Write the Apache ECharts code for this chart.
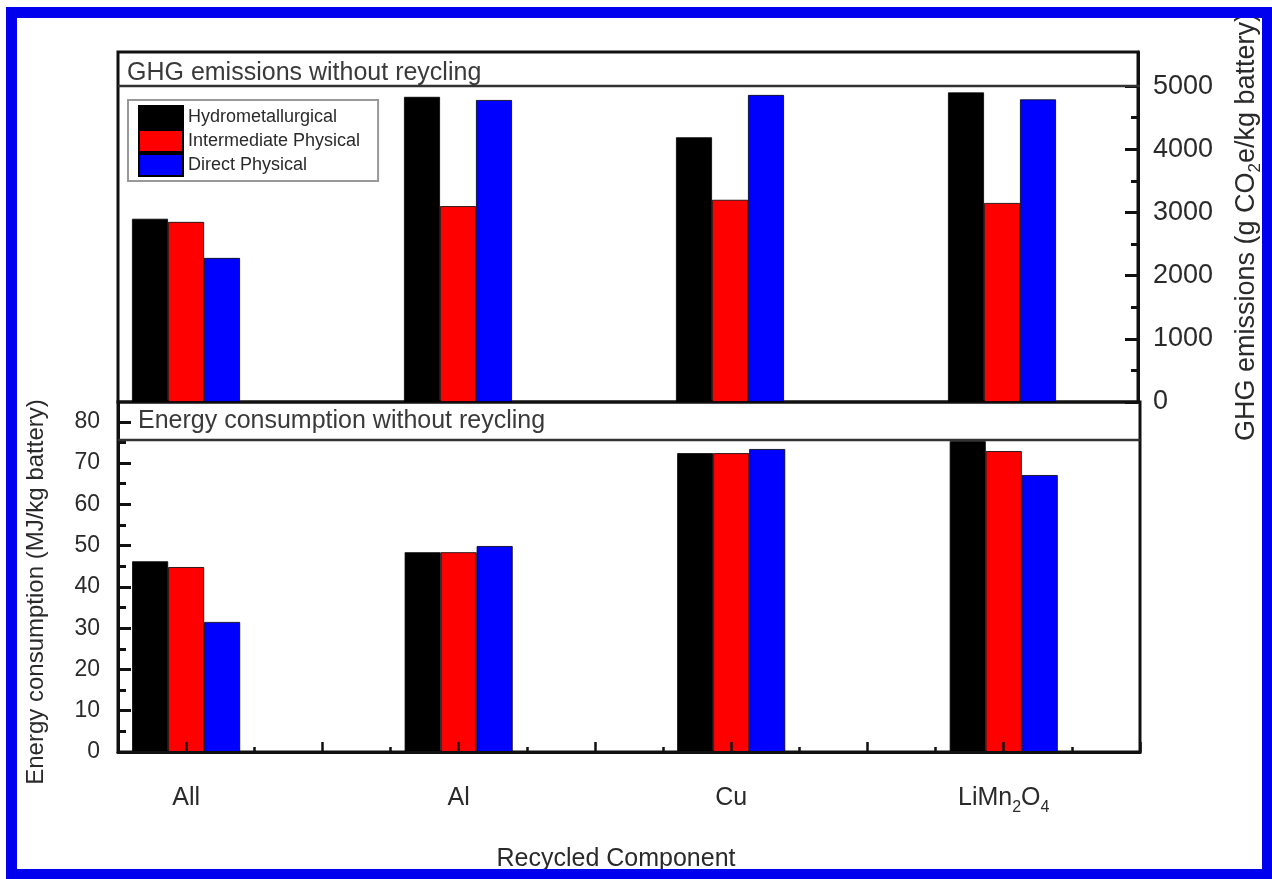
<!DOCTYPE html>
<html>
<head>
<meta charset="utf-8">
<title>GHG emissions and energy consumption without recycling</title>
<script src="https://cdn.jsdelivr.net/npm/echarts@6/dist/echarts.min.js"></script>
<style>
  html, body { margin: 0; padding: 0; background: #fff; }
  #chart { width: 1272px; height: 879px; }
</style>
</head>
<body>
<div id="chart"></div>
<script>
// Recycled components and their positions on the x axis
const categories = ['All', 'Al', 'Cu', 'LiMn2O4'];
const categoryPos = [1, 2, 3, 4];

// Series names
const seriesNames = ['Hydrometallurgical', 'Intermediate Physical', 'Direct Physical'];

// GHG emissions (g CO2e/kg battery)
const ghgHydro = [2900, 4830, 4190, 4900];
const ghgInter = [2850, 3100, 3200, 3150];
const ghgDirect = [2280, 4780, 4860, 4790];

// Energy consumption (MJ/kg battery)
const energyHydro = [46.2, 48.4, 72.4, 75.3];
const energyInter = [44.8, 48.4, 72.4, 72.9];
const energyDirect = [31.5, 49.9, 73.4, 67.1];

// Tick positions
const ghgTicks = [0, 1000, 2000, 3000, 4000, 5000];
const ghgMinorTicks = [500, 1500, 2500, 3500, 4500];
const energyTicks = [0, 10, 20, 30, 40, 50, 60, 70, 80];
const energyMinorTicks = [5, 15, 25, 35, 45, 55, 65, 75];
const xMajorTicks = [1, 1.5, 2, 2.5, 3, 3.5, 4, 4.5];
const xMinorTicks = [1.25, 1.75, 2.25, 2.75, 3.25, 3.75, 4.25];

const colors = ['#000000', '#ff0000', '#0000ff'];
const FONT = '"Liberation Sans", Arial, Helvetica, sans-serif';
const TEXT = '#2a2a2a';
const FRAME = '#111';

// turn digits into subscript rich-text tokens
function withSubscripts(name) {
  return '{n|' + name.replace(/(\d)/g, '}{s|$1}{n|') + '}';
}

function pairs(values) {
  return values.map((v, i) => [categoryPos[i], v]);
}

function barSeries(name, values, idx, gridIdx) {
  return {
    type: 'bar',
    name: name,
    xAxisIndex: gridIdx === 0 ? 0 : 1,
    yAxisIndex: gridIdx === 0 ? 0 : 2,
    data: pairs(values),
    barWidth: 36,
    barGap: '0%',
    itemStyle: { color: colors[idx], borderColor: '#000', borderWidth: 0.8 },
    emphasis: { disabled: true },
    z: 2
  };
}

const X_MIN = 0.75, X_MAX = 4.5;
const GHG_MAX = 5540;
const ENERGY_MAX = 84.8;

const chart = echarts.init(document.getElementById('chart'), null, { renderer: 'canvas' });

const option = {
  backgroundColor: '#ffffff',
  animation: false,
  textStyle: { fontFamily: FONT },
  grid: [
    { left: 118, right: 132, top: 52, height: 350, show: true, borderColor: FRAME, borderWidth: 3, backgroundColor: 'transparent' },
    { left: 118, right: 132, top: 402, height: 350, show: true, borderColor: FRAME, borderWidth: 3, backgroundColor: 'transparent' }
  ],
  title: [
    { text: 'GHG emissions without reycling', left: 122, top: 56, padding: 5,
      textStyle: { fontFamily: FONT, fontSize: 25, fontWeight: 'normal', color: '#3a3a3a' } },
    { text: 'Energy consumption without reycling', left: 133, top: 404, padding: 5,
      textStyle: { fontFamily: FONT, fontSize: 25, fontWeight: 'normal', color: '#3a3a3a' } }
  ],
  legend: {
    data: seriesNames,
    orient: 'vertical',
    left: 128,
    top: 100,
    padding: [5, 18, 4, 10],
    itemWidth: 44,
    itemHeight: 22,
    itemGap: 0,
    icon: 'rect',
    backgroundColor: '#fff',
    borderColor: '#999',
    borderWidth: 2,
    selectedMode: false,
    textStyle: { fontFamily: FONT, fontSize: 18, color: TEXT }
  },
  xAxis: [
    { type: 'value', gridIndex: 0, min: X_MIN, max: X_MAX, show: false, splitLine: { show: false } },
    {
      type: 'value', gridIndex: 1, min: X_MIN, max: X_MAX, position: 'bottom', z: 5,
      axisLine: { show: true, lineStyle: { color: FRAME, width: 3 } },
      axisTick: { show: true, inside: true, length: 10, customValues: xMajorTicks, lineStyle: { color: FRAME, width: 2.5 } },
      axisLabel: {
        show: true, customValues: categoryPos, margin: 34, color: TEXT,
        formatter: v => withSubscripts(categories[categoryPos.indexOf(v)] || ''),
        rich: {
          n: { fontFamily: FONT, fontSize: 25, lineHeight: 25, verticalAlign: 'top', color: TEXT },
          s: { fontFamily: FONT, fontSize: 16, lineHeight: 16, padding: [14, 0, 0, 0], verticalAlign: 'top', color: TEXT }
        }
      },
      splitLine: { show: false },
      name: 'Recycled Component',
      nameLocation: 'middle',
      nameGap: 95,
      nameTextStyle: { fontFamily: FONT, fontSize: 25, color: TEXT, padding: [0, 26, 0, 0] }
    },
    {
      type: 'value', gridIndex: 1, min: X_MIN, max: X_MAX, position: 'bottom', z: 5,
      axisLine: { show: false },
      axisTick: { show: true, inside: true, length: 5, customValues: xMinorTicks, lineStyle: { color: FRAME, width: 2.5 } },
      axisLabel: { show: false },
      splitLine: { show: false }
    }
  ],
  yAxis: [
    {
      type: 'value', gridIndex: 0, min: 0, max: GHG_MAX, position: 'right',
      axisLine: { show: true, lineStyle: { color: FRAME, width: 3 } },
      axisTick: { show: true, inside: true, length: 13, customValues: ghgTicks, lineStyle: { color: FRAME, width: 3 } },
      axisLabel: { show: true, customValues: ghgTicks, margin: 15, fontFamily: FONT, fontSize: 27, color: TEXT,
        formatter: v => String(v) },
      splitLine: { show: false },
      name: '{n|GHG emissions (g CO}{s|2}{n|e/kg battery)}',
      nameLocation: 'middle',
      nameRotate: 90,
      nameGap: 95,
      nameTextStyle: {
        fontFamily: FONT, fontSize: 27, color: TEXT,
        rich: {
          n: { fontFamily: FONT, fontSize: 27, lineHeight: 27, verticalAlign: 'top', color: TEXT },
          s: { fontFamily: FONT, fontSize: 17, lineHeight: 17, padding: [14, 0, 0, 0], verticalAlign: 'top', color: TEXT }
        }
      }
    },
    {
      type: 'value', gridIndex: 0, min: 0, max: GHG_MAX, position: 'right',
      axisLine: { show: false },
      axisTick: { show: true, inside: true, length: 7, customValues: ghgMinorTicks, lineStyle: { color: FRAME, width: 3 } },
      axisLabel: { show: false },
      splitLine: { show: false }
    },
    {
      type: 'value', gridIndex: 1, min: 0, max: ENERGY_MAX, position: 'left',
      axisLine: { show: true, lineStyle: { color: FRAME, width: 3 } },
      axisTick: { show: true, inside: true, length: 13, customValues: energyTicks, lineStyle: { color: FRAME, width: 3 } },
      axisLabel: { show: true, customValues: energyTicks, margin: 18, fontFamily: FONT, fontSize: 23, color: TEXT },
      splitLine: { show: false },
      name: 'Energy consumption (MJ/kg battery)',
      nameLocation: 'middle',
      nameGap: 70,
      nameTextStyle: { fontFamily: FONT, fontSize: 24, color: TEXT, padding: [0, 30, 0, 0] }
    },
    {
      type: 'value', gridIndex: 1, min: 0, max: ENERGY_MAX, position: 'left',
      axisLine: { show: false },
      axisTick: { show: true, inside: true, length: 8, customValues: energyMinorTicks, lineStyle: { color: FRAME, width: 3 } },
      axisLabel: { show: false },
      splitLine: { show: false }
    }
  ],
  graphic: [
    // rules under the two panel headings
    { type: 'line', shape: { x1: 118, y1: 86, x2: 1140, y2: 86 }, style: { stroke: '#333', lineWidth: 2.5 }, z: 10 },
    { type: 'line', shape: { x1: 118, y1: 440, x2: 1140, y2: 440 }, style: { stroke: '#333', lineWidth: 2.5 }, z: 10 },
    // outer blue frame
    { type: 'rect', shape: { x: 11.5, y: 12.5, width: 1256, height: 862 },
      style: { fill: 'none', stroke: '#0000ee', lineWidth: 11 }, z: 20, silent: true }
  ],
  series: [
    barSeries(seriesNames[0], ghgHydro, 0, 0),
    barSeries(seriesNames[1], ghgInter, 1, 0),
    barSeries(seriesNames[2], ghgDirect, 2, 0),
    barSeries(seriesNames[0], energyHydro, 0, 1),
    barSeries(seriesNames[1], energyInter, 1, 1),
    barSeries(seriesNames[2], energyDirect, 2, 1)
  ]
};

chart.setOption(option);
</script>
</body>
</html>
